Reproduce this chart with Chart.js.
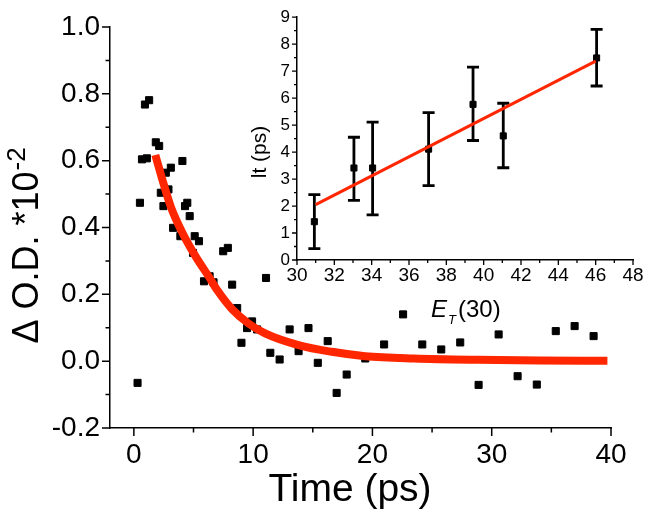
<!DOCTYPE html>
<html>
<head>
<meta charset="utf-8">
<script src="https://cdn.jsdelivr.net/npm/chart.js@4"></script>
<style>
  body { margin: 0; background: #fff; }
  #wrap { position: relative; width: 648px; height: 519px; }
  #mainChart { position: absolute; left: 0; top: 0; }
  #insetChart { position: absolute; left: 230px; top: 0; }
</style>
</head>
<body>
<div id="wrap">
  <canvas id="mainChart" width="648" height="519"></canvas>
  <canvas id="insetChart" width="418" height="330"></canvas>
</div>
<script>
// main plot: transient absorption decay
const timePs = [0.31, 0.51, 0.68, 1.09, 0.93, 1.28, 1.84, 2.12, 2.26, 2.68, 2.9, 3.1, 2.48, 3.29,
  3.9, 4.07, 4.29, 4.48, 4.68, 4.96, 5.1, 5.46, 5.88, 6.35, 6.68, 7.49, 7.88, 8.24, 8.66, 9.02,
  9.49, 9.91, 10.33, 11.08, 11.44, 12.22, 13.06, 13.81, 14.64, 15.42, 16.25, 17.0, 17.84, 19.4,
  20.98, 22.57, 24.18, 25.77, 27.36, 28.9, 30.58, 32.17, 33.78, 35.37, 36.95, 38.54];
const deltaOD = [-0.065, 0.474, 0.604, 0.607, 0.768, 0.781, 0.655, 0.644, 0.504, 0.564, 0.514, 0.579, 0.464, 0.399,
  0.374, 0.599, 0.464, 0.474, 0.434, 0.324, 0.374, 0.359, 0.239, 0.254, 0.236, 0.329, 0.339, 0.229, 0.159, 0.055,
  0.099, 0.119, 0.095, 0.249, 0.025, 0.005, 0.095, 0.03, 0.099, -0.005, 0.06, -0.095, -0.04, 0.008,
  0.05, 0.14, 0.05, 0.035, 0.056, -0.071, 0.08, -0.045, -0.07, 0.09, 0.105, 0.075];
// exponential fit
const fitTime = [1.8, 2.4, 3.1, 4.1, 5.2, 6.3, 7.0, 8.2, 9.6, 11.0, 13.8, 16.6, 19.4, 23.5, 28.8, 34.0, 39.7];
const fitOD = [0.617, 0.542, 0.462, 0.382, 0.312, 0.252, 0.212, 0.157, 0.113, 0.083, 0.048, 0.028, 0.015, 0.008, 0.004, 0.002, 0.001];
const mainXTicks = [0, 10, 20, 30, 40];
const mainXMinor = [5, 15, 25, 35];
const mainYTicks = [-0.2, 0, 0.2, 0.4, 0.6, 0.8, 1.0];
const mainYMinor = [-0.1, 0.1, 0.3, 0.5, 0.7, 0.9];

// inset: lifetime vs ET(30)
const et30 = [30.93, 33.05, 34.05, 37.05, 39.43, 41.05, 46.05];
const lifetime = [1.42, 3.41, 3.41, 4.11, 5.77, 4.6, 7.49];
const errTop = [2.42, 4.55, 5.11, 5.46, 7.15, 5.81, 8.55];
const errBottom = [0.42, 2.21, 1.67, 2.76, 4.43, 3.42, 6.45];
const linFitX = [31, 46];
const linFitY = [2.05, 7.37];
const insetXTicks = [30, 32, 34, 36, 38, 40, 42, 44, 46, 48];
const insetXMinor = [31, 33, 35, 37, 39, 41, 43, 45, 47];
const insetYTicks = [0, 1, 2, 3, 4, 5, 6, 7, 8, 9];
const insetYMinor = [0.5, 1.5, 2.5, 3.5, 4.5, 5.5, 6.5, 7.5, 8.5];

const FONT = "'Liberation Sans', Arial, sans-serif";
const RED = 'rgb(255,38,0)';

const toPts = (xs, ys) => xs.map((x, i) => ({ x: x, y: ys[i] }));

// outward tick marks, major and minor, drawn from the chart's scales
const axisTicks = {
  id: 'axisTicks',
  afterDraw(chart, args, o) {
    const ctx = chart.ctx;
    const area = chart.chartArea;
    const sx = chart.scales.x, sy = chart.scales.y;
    ctx.save();
    ctx.strokeStyle = '#000';
    ctx.lineWidth = o.width;
    ctx.beginPath();
    const xt = (vals, len) => vals.forEach(v => {
      const px = sx.getPixelForValue(v);
      ctx.moveTo(px, area.bottom);
      ctx.lineTo(px, area.bottom + len);
    });
    const yt = (vals, len) => vals.forEach(v => {
      const py = sy.getPixelForValue(v);
      ctx.moveTo(area.left, py);
      ctx.lineTo(area.left - len, py);
    });
    xt(o.xMajor, o.major); xt(o.xMinor, o.minor);
    yt(o.yMajor, o.major); yt(o.yMinor, o.minor);
    ctx.stroke();
    ctx.restore();
  }
};

const mainTitles = {
  id: 'mainTitles',
  afterDraw(chart) {
    const ctx = chart.ctx;
    ctx.save();
    ctx.fillStyle = '#000';
    ctx.textBaseline = 'alphabetic';
    ctx.textAlign = 'center';
    ctx.font = '39px ' + FONT;
    ctx.fillText('Time (ps)', 350, 501);
    // y title with superscript
    ctx.translate(38, 246);
    ctx.rotate(-Math.PI / 2);
    ctx.textAlign = 'left';
    const base = '\u0394 O.D. *10', sup = '-2';
    ctx.font = '36px ' + FONT;
    const w1 = ctx.measureText(base).width;
    ctx.font = '26px ' + FONT;
    const w2 = ctx.measureText(sup).width;
    const start = -(w1 + w2) / 2;
    ctx.font = '36px ' + FONT;
    ctx.fillText(base, start, 0);
    ctx.font = '26px ' + FONT;
    ctx.fillText(sup, start + w1 + 1, -13);
    ctx.restore();
  }
};

const errorBars = {
  id: 'errorBars',
  beforeDatasetsDraw(chart) {
    const ctx = chart.ctx;
    const sx = chart.scales.x, sy = chart.scales.y;
    ctx.save();
    ctx.strokeStyle = '#000';
    ctx.lineWidth = 2.8;
    ctx.beginPath();
    et30.forEach((v, i) => {
      const px = sx.getPixelForValue(v);
      const top = sy.getPixelForValue(errTop[i]);
      const bot = sy.getPixelForValue(errBottom[i]);
      ctx.moveTo(px, top); ctx.lineTo(px, bot);
      ctx.moveTo(px - 6, top); ctx.lineTo(px + 6, top);
      ctx.moveTo(px - 6, bot); ctx.lineTo(px + 6, bot);
    });
    ctx.stroke();
    ctx.restore();
  }
};

const insetTitles = {
  id: 'insetTitles',
  afterDraw(chart) {
    const ctx = chart.ctx;
    ctx.save();
    ctx.fillStyle = '#000';
    ctx.textBaseline = 'alphabetic';
    ctx.textAlign = 'left';
    // x title: E_T(30)
    let x = 201;
    ctx.font = 'italic 24px ' + FONT;
    ctx.fillText('E', x, 317);
    x += ctx.measureText('E').width + 1;
    ctx.font = 'italic 13px ' + FONT;
    ctx.fillText('T', x, 324);
    x += ctx.measureText('T').width + 2;
    ctx.font = '24px ' + FONT;
    ctx.fillText('(30)', x, 317);
    // y title
    ctx.translate(36, 152);
    ctx.rotate(-Math.PI / 2);
    ctx.textAlign = 'center';
    ctx.font = '21px ' + FONT;
    ctx.fillText('lt (ps)', 0, 0);
    ctx.restore();
  }
};

const axisStyle = (size, pad) => ({
  grid: { display: false, drawTicks: false },
  border: { display: true, color: '#000', width: 1.5 },
  ticks: { color: '#000', font: { family: FONT, size: size }, padding: pad, maxRotation: 0 }
});

const mainY = axisStyle(28, 10);
mainY.ticks.callback = v => Number(v).toFixed(1);

new Chart(document.getElementById('mainChart'), {
  type: 'scatter',
  data: {
    datasets: [
      {
        data: toPts(fitTime, fitOD), showLine: true, borderColor: RED, borderWidth: 8,
        pointRadius: 0, cubicInterpolationMode: 'monotone', order: 0
      },
      {
        data: toPts(timePs, deltaOD), pointStyle: 'rect', pointRadius: 5,
        backgroundColor: '#000', borderColor: '#000', borderWidth: 1, order: 1
      }
    ]
  },
  options: {
    responsive: false, animation: false, devicePixelRatio: 1,
    layout: { padding: { top: 27, right: 37, left: 0, bottom: 0 } },
    plugins: {
      legend: { display: false }, tooltip: { enabled: false },
      axisTicks: { xMajor: mainXTicks, xMinor: mainXMinor, yMajor: mainYTicks, yMinor: mainYMinor, major: 8, minor: 4.5, width: 1.5 }
    },
    scales: {
      x: Object.assign(axisStyle(28, 10), {
        type: 'linear', min: -2, max: 40,
        afterBuildTicks: s => { s.ticks = mainXTicks.map(v => ({ value: v })); },
        afterFit: s => { s.height = 91; }
      }),
      y: Object.assign(mainY, {
        type: 'linear', min: -0.2, max: 1.0,
        afterBuildTicks: s => { s.ticks = mainYTicks.map(v => ({ value: v })); },
        afterFit: s => { s.width = 110; }
      })
    }
  },
  plugins: [axisTicks, mainTitles]
});

new Chart(document.getElementById('insetChart'), {
  type: 'scatter',
  data: {
    datasets: [
      {
        data: toPts(linFitX, linFitY), showLine: true, borderColor: RED, borderWidth: 3,
        pointRadius: 0, order: 0
      },
      {
        data: toPts(et30, lifetime), pointStyle: 'rect', pointRadius: 4.3,
        backgroundColor: '#000', borderColor: '#000', borderWidth: 1, order: 1
      }
    ]
  },
  options: {
    responsive: false, animation: false, devicePixelRatio: 1,
    layout: { padding: { top: 12, right: 15, left: 0, bottom: 0 } },
    plugins: {
      legend: { display: false }, tooltip: { enabled: false },
      axisTicks: { xMajor: insetXTicks, xMinor: insetXMinor, yMajor: insetYTicks, yMinor: insetYMinor, major: 5, minor: 3, width: 1.3 }
    },
    scales: {
      x: Object.assign(axisStyle(19, 4), {
        type: 'linear', min: 30, max: 48,
        afterBuildTicks: s => { s.ticks = insetXTicks.map(v => ({ value: v })); },
        afterFit: s => { s.height = 70; }
      }),
      y: Object.assign(axisStyle(17, 7), {
        type: 'linear', min: 0, max: 9,
        afterBuildTicks: s => { s.ticks = insetYTicks.map(v => ({ value: v })); },
        afterFit: s => { s.width = 67; }
      })
    }
  },
  plugins: [axisTicks, errorBars, insetTitles]
});
</script>
</body>
</html>
